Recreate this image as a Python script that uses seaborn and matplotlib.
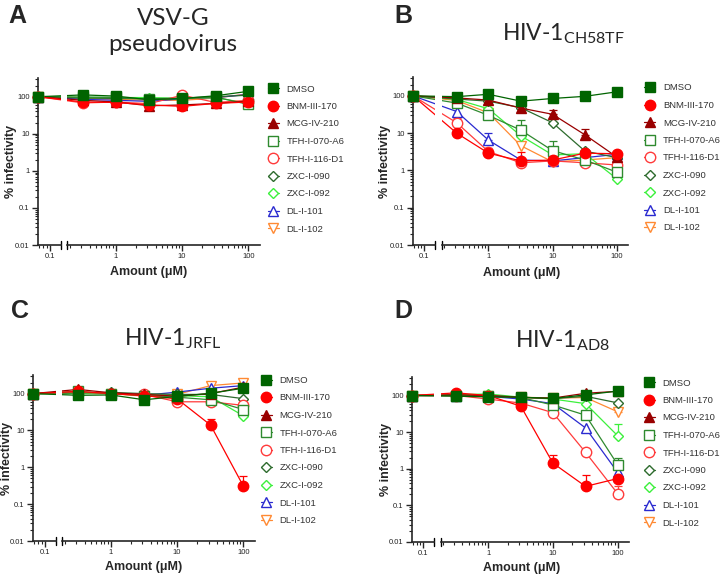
import numpy as np
import pandas as pd
import seaborn as sns
import matplotlib.pyplot as plt
from matplotlib.lines import Line2D
from matplotlib.ticker import FixedLocator, NullFormatter, LogLocator

# doses in uM; the no-drug point (0) is drawn on the short left segment
doses = [0, 0.32, 1, 3.2, 10, 32, 100]
zero_pos = 0.0667

compounds = ["DMSO", "BNM-III-170", "MCG-IV-210", "TFH-I-070-A6", "TFH-I-116-D1",
             "ZXC-I-090", "ZXC-I-092", "DL-I-101", "DL-I-102"]

# % infectivity, one row per compound (same order as compounds)
vsv_vals = [
    [100, 112, 104, 83, 90, 106, 140],
    [100, 72, 70, 60, 55, 66, 72],
    [100, 80, 72, 57, 60, 66, 76],
    [100, 98, 96, 85, 88, 98, 62],
    [100, 68, 72, 65, 110, 70, 80],
    [100, 92, 90, 88, 92, 100, 110],
    [100, 96, 95, 95, 90, 95, 66],
    [100, 85, 80, 75, 88, 95, 115],
    [100, 90, 85, 80, 80, 92, 120],
]
ch58_vals = [
    [100, 95, 110, 72, 85, 97, 128],
    [100, 10, 2.9, 1.8, 1.9, 2.9, 2.8],
    [100, 88, 77, 47, 32, 9, 2.3],
    [100, 64, 30, 12, 3.4, 1.9, 0.9],
    [100, 19, 3.2, 1.6, 1.8, 1.6, 1.4],
    [100, 82, 72, 48, 19, 3.3, 2.2],
    [100, 80, 45, 8.5, 2.6, 2.8, 0.6],
    [100, 38, 6.5, 1.9, 1.8, 2.2, 2.7],
    [100, 75, 35, 4.6, 1.7, 1.9, 2.2],
]
jrfl_vals = [
    [100, 90, 92, 68, 84, 102, 140],
    [100, 115, 100, 88, 72, 14, 0.31],
    [100, 130, 105, 95, 85, 100, 150],
    [100, 115, 100, 88, 80, 68, 37],
    [100, 110, 100, 95, 60, 60, 48],
    [100, 105, 108, 100, 95, 95, 73],
    [100, 100, 100, 95, 88, 82, 25],
    [100, 105, 105, 90, 110, 140, 165],
    [100, 105, 100, 85, 95, 165, 195],
]
ad8_vals = [
    [100, 96, 92, 90, 83, 104, 132],
    [100, 118, 100, 51, 1.43, 0.33, 0.54],
    [100, 105, 100, 88, 85, 115, 130],
    [100, 100, 95, 88, 55, 29, 1.3],
    [100, 100, 80, 62, 34, 2.8, 0.21],
    [100, 100, 100, 90, 82, 95, 63],
    [100, 105, 110, 90, 80, 60, 8],
    [100, 100, 95, 80, 60, 13, 0.8],
    [100, 100, 100, 90, 85, 88, 36],
]

# upper error bars (same units), only where visible
vsv_err = {"DMSO": [0, 0, 0, 0, 0, 0, 20]}
ch58_err = {
    "DMSO": [0, 0, 0, 0, 0, 0, 30],
    "MCG-IV-210": [0, 0, 0, 0, 10, 4, 0],
    "TFH-I-070-A6": [0, 0, 0, 10, 2.8, 1.5, 0.6],
    "TFH-I-116-D1": [0, 6, 0, 0, 0, 0, 0],
    "BNM-III-170": [0, 0, 1.1, 1.4, 0, 0, 0],
    "DL-I-101": [0, 0, 3.5, 0, 0, 0, 0],
}
jrfl_err = {
    "DMSO": [0, 0, 0, 0, 0, 0, 25],
    "BNM-III-170": [0, 0, 0, 0, 0, 6, 0.28],
    "TFH-I-070-A6": [0, 0, 0, 0, 0, 0, 8],
}
ad8_err = {
    "BNM-III-170": [0, 0, 0, 0, 1.0, 0.33, 0.1],
    "ZXC-I-092": [0, 0, 0, 0, 0, 0, 9],
    "TFH-I-070-A6": [0, 0, 0, 0, 0, 0, 0.7],
    "TFH-I-116-D1": [0, 0, 0, 0, 0, 0, 0.13],
    "DL-I-102": [0, 0, 0, 0, 0, 0, 9],
}

colors = ["#006400", "#ff0000", "#990000", "#2f8a2f", "#ff3b3b",
          "#2d6b2d", "#3cf03c", "#2a2ad0", "#ff8a33"]
markers = ["s", "o", "^", "s", "o", "D", "D", "^", "v"]
filled = [True, True, True, False, False, False, False, False, False]
sizes = [7, 7.5, 7.5, 7, 7.5, 5.5, 5.5, 7.5, 7.5]

sns.set_style("ticks")
plt.rcParams["font.family"] = ["Liberation Sans", "DejaVu Sans"]
plt.rcParams["mathtext.default"] = "regular"

W, H = 720, 577
fig = plt.figure(figsize=(7.2, 5.77), dpi=100)

x_lo, left_hi, right_lo, x_hi = 0.0667, 0.146, 0.186, 150
xs = [zero_pos] + doses[1:]


def fx(px):
    return px / W


def fy(py):
    return 1 - py / H


def draw_panel(vals, errs, box, title, title_pos, title_size, letter, letter_pos,
               ylab_x, xlab_pos, leg_pos):
    x0, top, w, h = box
    dec = w / np.log10(x_hi / x_lo)
    wl = dec * np.log10(left_hi / x_lo)
    xr = x0 + dec * np.log10(right_lo / x_lo)
    wr = x0 + w - xr
    axl = fig.add_axes([fx(x0), fy(top + h), wl / W, h / H])
    axr = fig.add_axes([fx(xr), fy(top + h), wr / W, h / H], sharey=axl)
    for ax in (axl, axr):
        ax.set_xscale("log")
        ax.set_yscale("log")

    order = list(range(len(compounds)))[::-1]
    for i in order:
        name = compounds[i]
        c = colors[i]
        fc = c if filled[i] else "white"
        v = vals[i]
        sns.lineplot(x=xs, y=v, ax=axl, color=c, lw=0.9, errorbar=None,
                     sort=False, legend=False)
        axl.plot([xs[0]], [v[0]], marker=markers[i], ms=sizes[i], mfc=fc, mec=c,
                 mew=1.0, ls="none", clip_on=False, zorder=3)
        sns.lineplot(x=xs, y=v, ax=axr, color=c, lw=0.9, errorbar=None, sort=False,
                     legend=False, marker=markers[i], markersize=sizes[i],
                     markerfacecolor=fc, markeredgecolor=c, markeredgewidth=1.0)
        if name in errs:
            e = np.array(errs[name])
            keep = e > 0
            xe = np.array(xs)[keep]
            ye = np.array(v)[keep]
            axr.errorbar(xe, ye, yerr=[np.zeros(keep.sum()), e[keep]], fmt="none",
                         ecolor=c, elinewidth=0.9, capsize=3, capthick=0.9, zorder=1.5)

    axl.set_xlim(x_lo, left_hi)
    axr.set_xlim(right_lo, x_hi)
    axl.set_ylim(0.01, 320)

    yt = [0.01, 0.1, 1, 10, 100]
    axl.yaxis.set_major_locator(FixedLocator(yt))
    axl.set_yticklabels(["0.01", "0.1", "1", "10", "100"])
    axl.yaxis.set_minor_locator(LogLocator(subs=np.arange(2, 10)))
    axl.yaxis.set_minor_formatter(NullFormatter())

    axl.xaxis.set_major_locator(FixedLocator([0.1]))
    axl.set_xticklabels(["0.1"])
    axl.xaxis.set_minor_locator(FixedLocator([0.07, 0.08, 0.09]))
    axl.xaxis.set_minor_formatter(NullFormatter())
    axr.xaxis.set_major_locator(FixedLocator([1, 10, 100]))
    axr.set_xticklabels(["1", "10", "100"])
    axr.xaxis.set_minor_locator(LogLocator(subs=np.arange(2, 10)))
    axr.xaxis.set_minor_formatter(NullFormatter())

    for ax in (axl, axr):
        for s in ("top", "right"):
            ax.spines[s].set_visible(False)
        ax.spines["bottom"].set_linewidth(1.2)
        ax.spines["left"].set_linewidth(1.2)
        ax.tick_params(which="major", length=4, width=1, labelsize=5.5,
                       labelcolor="#222222", pad=2)
        ax.tick_params(which="minor", length=2.2, width=0.8)
        ax.set_xlabel("")
        ax.set_ylabel("")
        ax.grid(False)
    axr.spines["left"].set_visible(False)
    axr.tick_params(axis="y", which="both", left=False, labelleft=False)

    # break marks at the ends of the two x segments
    axl.plot([1, 1], [-0.022, 0.022], transform=axl.transAxes, color="black",
             lw=1.0, clip_on=False)
    axr.plot([0, 0], [-0.022, 0.022], transform=axr.transAxes, color="black",
             lw=1.0, clip_on=False)

    fig.text(fx(ylab_x), fy(top + h / 2), "% infectivity", rotation=90,
             ha="center", va="center", fontsize=9, fontweight="bold")
    fig.text(fx(xlab_pos[0]), fy(xlab_pos[1]), "Amount (\u03bcM)", ha="center",
             va="center", fontsize=9, fontweight="bold")
    fig.text(fx(title_pos[0]), fy(title_pos[1]), title, ha="center",
             va="baseline", fontsize=title_size, family="Lato", linespacing=1.3)
    fig.text(fx(letter_pos[0]), fy(letter_pos[1]), letter, ha="left",
             va="baseline", fontsize=18, fontweight="bold")

    handles = []
    for i in range(len(compounds)):
        handles.append(Line2D([0], [0], color=colors[i], lw=0.9, marker=markers[i],
                              ms=sizes[i], mfc=colors[i] if filled[i] else "white",
                              mec=colors[i], mew=1.0))
    fig.legend(handles, compounds, loc="upper left",
               bbox_to_anchor=(fx(leg_pos[0]), fy(leg_pos[1])), frameon=False,
               fontsize=6.8, handlelength=1.2, handletextpad=0.8,
               labelspacing=0.9, borderpad=0, borderaxespad=0,
               labelcolor="#333333")


draw_panel(vsv_vals, vsv_err, (38, 78, 222, 167), "VSV-G\npseudovirus",
           (173, 51), 17.5, "A", (8, 23), 11, (149, 272), (267.5, 84.5))
draw_panel(ch58_vals, ch58_err, (413, 77, 215, 168), "HIV-1$_{CH58TF}$",
           (563, 40), 16.5, "B", (394, 23), 385, (522, 273), (644, 83.5))
draw_panel(jrfl_vals, jrfl_err, (33, 375, 222, 166), "HIV-1$_{JRFL}$",
           (173, 345), 16.5, "C", (11, 318), 7, (144, 567), (260.5, 376))
draw_panel(ad8_vals, ad8_err, (412, 377, 217, 165), "HIV-1$_{AD8}$",
           (562, 347), 16.5, "D", (394, 318), 386, (522, 568), (643.5, 378.5))

fig.savefig("out.png", dpi=100)
